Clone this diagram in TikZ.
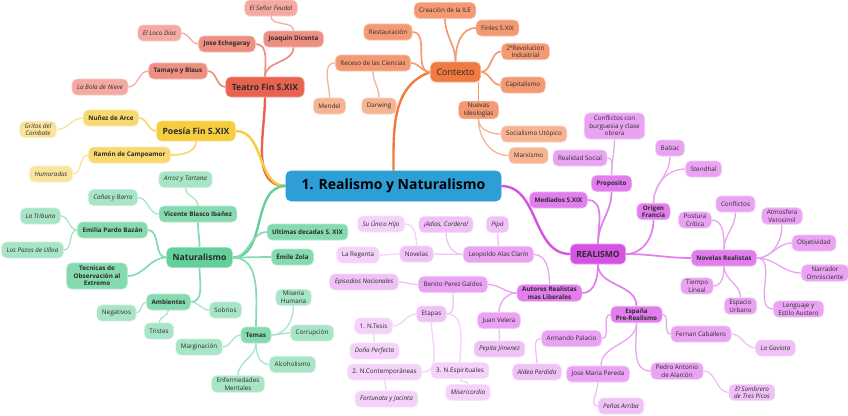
\documentclass[tikz,border=0pt]{standalone}
\usepackage{fontspec}
\setmainfont{Open Sans}
\usetikzlibrary{backgrounds}
\definecolor{txt}{HTML}{2B2B2B}
\definecolor{cenc}{HTML}{2D9FD6}
\definecolor{r0}{HTML}{E8634F}\definecolor{r1}{HTML}{EF8F82}\definecolor{r2}{HTML}{F4AAA2}
\definecolor{y0}{HTML}{F6CD3C}\definecolor{y1}{HTML}{F8D96F}\definecolor{y2}{HTML}{FAE49D}
\definecolor{o0}{HTML}{F07A3F}\definecolor{o1}{HTML}{F39A74}\definecolor{o2}{HTML}{F6B493}
\definecolor{g0}{HTML}{63CF9B}\definecolor{g1}{HTML}{86DAB0}\definecolor{g2}{HTML}{A8E5C6}
\definecolor{m0}{HTML}{D553E2}\definecolor{m1}{HTML}{E17DEC}\definecolor{m2}{HTML}{EAA3F3}
\definecolor{m3}{HTML}{F0C1F7}\definecolor{m4}{HTML}{F4D2F9}
\newcommand{\fsn}{\fontsize{6.3}{7.6}\selectfont}
\newcommand{\fsb}{\fontsize{8.6}{10}\selectfont}
\tikzset{
  base/.style={rounded corners=5pt, inner xsep=5pt, inner ysep=2pt, minimum height=16pt,
    align=center, text=txt, font=\fsn, line width=0.6pt},
  lv/.style={base, fill=#1, draw=#1!60!white},
  bld/.style={font=\fsn\bfseries},
  ital/.style={font=\fsn\itshape},
  big/.style={minimum height=20pt, inner xsep=6pt, font=\fsb\bfseries},
  e0/.style={line width=2.4pt},
  e1/.style={line width=1.7pt},
  e2/.style={line width=1.3pt},
}
\begin{document}
\begin{tikzpicture}[x=1pt,y=-1pt]
\useasboundingbox (0,0) rectangle (848,415);
% central
\node[base, fill=cenc, draw=cenc, minimum height=30pt, minimum width=215pt, text=black,
  font=\fontsize{14}{16}\selectfont\bfseries] (cen) at (393.5,186) {1. Realismo y Naturalismo};
% Teatro
\node[lv=r0, big] (tea) at (265,87) {Teatro Fin S.XIX};
\node[lv=r1, bld] (joa) at (293.5,39) {Joaquin Dicenta};
\node[lv=r2, ital] (sen) at (271,8) {El Señor Feudal};
\node[lv=r1, bld] (jec) at (227,44) {Jose Echegaray};
\node[lv=r2, ital] (loc) at (159.5,33) {El Loco Dios};
\node[lv=r1, bld] (tam) at (178,71) {Tamayo y Blaus};
\node[lv=r2, ital] (bol) at (100,87) {La Bola de Nieve};
% Poesia
\node[lv=y0, big] (poe) at (196,131) {Poesía Fin S.XIX};
\node[lv=y1, bld] (nun) at (111,118) {Nuñez de Arce};
\node[lv=y2, ital] (gri) at (38,129.5) {Gritos del\\Combate};
\node[lv=y1, bld] (ram) at (129.5,155) {Ramón de Campoamor};
\node[lv=y2, ital] (hum) at (51,174) {Humoradas};
% Contexto
\node[lv=o0, big, font=\fontsize{9}{11}\selectfont] (ctx) at (455.5,72) {Contexto};
\node[lv=o1] (ile) at (445,10.5) {Creación de la ILE};
\node[lv=o1] (fin) at (497.5,28) {Finles S.XIX};
\node[lv=o1] (rev) at (525.5,51.5) {2ªRevolucion\\Industrial};
\node[lv=o1] (cap) at (523,85) {Capitalismo};
\node[lv=o1] (nue) at (478.5,110) {Nuevas\\Ideologías};
\node[lv=o2] (soc) at (534,134) {Socialismo Utópico};
\node[lv=o2] (mar) at (528.5,155.5) {Marxismo};
\node[lv=o1] (res) at (388,32) {Restauración};
\node[lv=o1] (rec) at (373,63) {Receso de las Ciencias};
\node[lv=o2] (men) at (329.5,106) {Mendel};
\node[lv=o2] (dar) at (379,106) {Darwing};
% Naturalismo
\node[lv=g0, big] (nat) at (199.5,257.5) {Naturalismo};
\node[lv=g1, bld] (vic) at (198,214) {Vicente Blasco Ibañez};
\node[lv=g2, ital] (arr) at (185.5,179.5) {Arroz y Tartana};
\node[lv=g2, ital] (can) at (113,197.5) {Cañas y Barro};
\node[lv=g1, bld] (emi) at (112.5,230) {Emilia Pardo Bazán};
\node[lv=g2, ital] (tri) at (40.5,216) {La Tribuna};
\node[lv=g2, ital] (paz) at (32.5,250) {Los Pazos de Ulloa};
\node[lv=g1, bld, inner xsep=7pt, inner ysep=3pt] (tec) at (97,276) {Tecnicas de\\Observación al\\Extremo};
\node[lv=g1, bld] (ult) at (307.5,232) {Ultimas decadas S. XIX};
\node[lv=g1, bld] (zol) at (292.5,257) {Émile Zola};
\node[lv=g1, bld] (amb) at (168.5,302) {Ambientes};
\node[lv=g2] (neg) at (116.5,313) {Negativos};
\node[lv=g2] (trs) at (159,331) {Tristes};
\node[lv=g2] (sob) at (225.5,310) {Sobrios};
\node[lv=g1, bld] (tem) at (256,335) {Temas};
\node[lv=g2] (mgn) at (199,347) {Marginación};
\node[lv=g2] (mis) at (293.5,297.5) {Miseria\\Humana};
\node[lv=g2] (cor) at (312,333) {Corrupción};
\node[lv=g2] (alc) at (292.5,364.5) {Alcoholismo};
\node[lv=g2] (enf) at (238,384) {Enfermedades\\Mentales};
% Realismo
\node[lv=m0, big, font=\fontsize{8.5}{10}\selectfont\bfseries] (rea) at (598,254) {REALISMO};
\node[lv=m1, bld] (med) at (558.5,200) {Mediados S.XIX};
\node[lv=m1, bld] (pro) at (611.5,183.5) {Proposito};
\node[lv=m2] (rso) at (580,158) {Realidad Social};
\node[lv=m2, inner ysep=3pt] (cbo) at (614.5,126) {Conflictos con\\burguesia y clase\\obrera};
\node[lv=m1, bld] (ori) at (653.5,211.5) {Origen\\Francia};
\node[lv=m2] (bal) at (670,148) {Balzac};
\node[lv=m2] (ste) at (703.5,169) {Stendhal};
\node[lv=m1, bld] (nov) at (724,258) {Novelas Realistas};
\node[lv=m2] (pos) at (695,220) {Postura\\Crítica};
\node[lv=m2] (cfl) at (735.5,204) {Conflictos};
\node[lv=m2] (atm) at (782,216) {Atmosfera\\Verosimil};
\node[lv=m2] (obj) at (814,243) {Objetividad};
\node[lv=m2] (nar) at (825,273) {Narrador\\Omnisciente};
\node[lv=m2] (len) at (798.5,309) {Lenguaje y\\Estilo Austero};
\node[lv=m2] (tie) at (697,286) {Tiempo\\Lineal};
\node[lv=m2] (esp) at (740.5,306) {Espacio\\Urbano};
\node[lv=m1, bld] (spa) at (636.5,314.5) {España\\Pre-Realismo};
\node[lv=m2] (fer) at (701,334) {Fernan Caballero};
\node[lv=m3, ital] (gav) at (775.5,348) {La Gaviota};
\node[lv=m2] (ped) at (677,371) {Pedro Antonio\\de Alarcón};
\node[lv=m3, ital] (som) at (752,392.5) {El Sombrero\\de Tres Picos};
\node[lv=m2] (arm) at (571.5,338.5) {Armando Palacio};
\node[lv=m3, ital] (ald) at (537,372) {Aldea Perdida};
\node[lv=m2] (jmp) at (598,374) {Jose Maria Pereda};
\node[lv=m3, ital] (pen) at (621,406) {Peñas Arriba};
\node[lv=m1, bld] (aut) at (549.5,293) {Autores Realistas\\mas Liberales};
\node[lv=m2] (jua) at (499,320.5) {Juan Velera};
\node[lv=m3, ital] (pep) at (499.5,349) {Pepita Jimenez};
\node[lv=m2] (ben) at (453,284.5) {Benito Perez Galdos};
\node[lv=m3, ital] (epi) at (364,282) {Episodios Nacionales};
\node[lv=m3] (eta) at (431.5,314) {Etapas};
\node[lv=m4] (nte) at (373.5,326) {1. N.Tesis};
\node[lv=m4, ital] (dop) at (374.5,351) {Doña Perfecta};
\node[lv=m4] (nco) at (384.5,372) {2. N.Contemporáneas};
\node[lv=m4, ital] (fyj) at (386.5,399) {Fortunata y Jacinta};
\node[lv=m4] (nes) at (460,370.5) {3. N.Espirituales};
\node[lv=m4, ital] (mic) at (468,392.5) {Misericordia};
\node[lv=m2] (leo) at (498.5,254.5) {Leopoldo Alas Clarín};
\node[lv=m3, ital] (adi) at (446,224.5) {¡Adios, Cordera!};
\node[lv=m3, ital] (pip) at (497.5,224.5) {Pipá};
\node[lv=m3] (nvl) at (416.5,254) {Novelas};
\node[lv=m4, ital] (suh) at (381,224) {Su Único Hijo};
\node[lv=m4] (reg) at (358,255) {La Regenta};

\begin{scope}[on background layer]
% main branches
\draw[e0, r0] (cen.west) to[out=180,in=-90] (tea.south);
\draw[e0, y0] (cen.west) to[out=180,in=0] (poe.east);
\draw[e0, g0] (cen.west) to[out=180,in=0] (nat.east);
\draw[e0, o0] (cen.north) to[out=90,in=200] (ctx.west);
\draw[e0, m0] (cen.east) to[out=0,in=180] (rea.west);
% teatro
\draw[e1, r1] (tea.north) to[out=90,in=-90] (joa.south);
\draw[e1, r1] (tea.north) to[out=90,in=0] (jec.east);
\draw[e1, r1] (tea.west) to[out=180,in=0] (tam.east);
\draw[e2, r2] (joa.north) to[out=90,in=-90] (sen.south);
\draw[e2, r2] (jec.west) to[out=180,in=0] (loc.east);
\draw[e2, r2] (tam.west) to[out=180,in=0] (bol.east);
% poesia
\draw[e1, y1] (poe.west) to[out=180,in=0] (nun.east);
\draw[e1, y1] (poe.south) to[out=-90,in=0] (ram.east);
\draw[e2, y2] (nun.west) to[out=180,in=0] (gri.east);
\draw[e2, y2] (ram.west) to[out=180,in=0] (hum.east);
% contexto
\draw[e1, o1] (ctx.north) to[out=90,in=-90] (ile.south);
\draw[e1, o1] (ctx.north) to[out=90,in=180] (fin.west);
\draw[e1, o1] (ctx.east) to[out=0,in=180] (rev.west);
\draw[e1, o1] (ctx.east) to[out=0,in=180] (cap.west);
\draw[e1, o1] (nue.north) -- (nue.north |- ctx.south);
\draw[e1, o1] (ctx.west) to[out=180,in=0] (res.east);
\draw[e1, o1] (ctx.west) to[out=180,in=0] (rec.east);
\draw[e2, o2] (rec.west) to[out=180,in=90] (men.north);
\draw[e2, o2] (rec.south) to[out=-90,in=90] (dar.north);
\draw[e2, o2] (nue.south) to[out=-90,in=180] (soc.west);
\draw[e2, o2] (nue.south) to[out=-90,in=180] (mar.west);
% naturalismo
\draw[e1, g1] (nat.north) to[out=90,in=-90] (vic.south);
\draw[e1, g1] (nat.west) to[out=180,in=0] (emi.east);
\draw[e1, g1] (nat.west) to[out=180,in=0] (tec.east);
\draw[e1, g1] (nat.east) to[out=0,in=180] (ult.west);
\draw[e1, g1] (nat.east) to[out=0,in=180] (zol.west);
\draw[e1, g1] (nat.south) to[out=-90,in=0] (amb.east);
\draw[e1, g1] (nat.east) to[out=0,in=90] (tem.north);
\draw[e2, g2] (vic.north) to[out=90,in=-90] (arr.south);
\draw[e2, g2] (vic.west) to[out=180,in=0] (can.east);
\draw[e2, g2] (emi.west) to[out=180,in=0] (tri.east);
\draw[e2, g2] (emi.west) to[out=180,in=0] (paz.east);
\draw[e2, g2] (amb.west) to[out=180,in=0] (neg.east);
\draw[e2, g2] (amb.south) to[out=-90,in=90] (trs.north);
\draw[e2, g2] (amb.east) to[out=0,in=180] (sob.west);
\draw[e2, g2] (tem.west) to[out=180,in=0] (mgn.east);
\draw[e2, g2] (tem.east) to[out=0,in=-90] (mis.south);
\draw[e2, g2] (tem.east) to[out=0,in=180] (cor.west);
\draw[e2, g2] (tem.south) to[out=-90,in=180] (alc.west);
\draw[e2, g2] (tem.south) to[out=-90,in=90] (enf.north);
% realismo
\draw[e1, m1] (rea.north) to[out=90,in=0] (med.east);
\draw[e1, m1] (rea.north) to[out=90,in=-90] (pro.south);
\draw[e1, m1] (rea.east) to[out=0,in=-90] (ori.south);
\draw[e1, m1] (rea.east) to[out=0,in=180] (nov.west);
\draw[e1, m1] (rea.south) to[out=-90,in=90] (spa.north);
\draw[e1, m1] (rea.south) to[out=-90,in=0] (aut.east);
\draw[e2, m2] (pro.north) to[out=90,in=0] (rso.east);
\draw[e2, m2] (pro.north) to[out=90,in=-90] (cbo.south);
\draw[e2, m2] (ori.north) to[out=90,in=-90] (bal.south);
\draw[e2, m2] (ori.north) to[out=90,in=180] (ste.west);
\draw[e2, m2] (nov.north) to[out=90,in=0] (pos.east);
\draw[e2, m2] (nov.north) to[out=90,in=-90] (cfl.south);
\draw[e2, m2] (nov.east) to[out=0,in=-90] (atm.south);
\draw[e2, m2] (nov.east) to[out=0,in=180] (obj.west);
\draw[e2, m2] (nov.east) to[out=0,in=180] (nar.west);
\draw[e2, m2] (nov.east) to[out=0,in=180] (len.west);
\draw[e2, m2] (nov.south) to[out=-90,in=0] (tie.east);
\draw[e2, m2] (nov.south) to[out=-90,in=90] (esp.north);
\draw[e2, m2] (spa.east) to[out=0,in=180] (fer.west);
\draw[e2, m2] (spa.south) to[out=-90,in=180] (ped.west);
\draw[e2, m2] (spa.west) to[out=180,in=0] (arm.east);
\draw[e2, m2] (spa.south) to[out=-90,in=90] (jmp.70);
\draw[e2, m3] (fer.east) to[out=0,in=180] (gav.west);
\draw[e2, m3] (ped.east) to[out=0,in=180] (som.west);
\draw[e2, m3] (arm.west) to[out=180,in=90] (ald.north);
\draw[e2, m3] (jmp.south) to[out=-90,in=180] (pen.west);
\draw[e2, m2] (aut.west) to[out=180,in=90] (jua.north);
\draw[e2, m2] (aut.west) to[out=180,in=0] (ben.east);
\draw[e2, m2] (aut.north) to[out=90,in=0] (leo.east);
\draw[e2, m3] (jua.south) -- (pep.north);
\draw[e2, m3] (leo.north) -- (pip.south);
\draw[e2, m3] (leo.west) to[out=180,in=-90] (adi.south);
\draw[e2, m3] (leo.west) -- (nvl.east);
\draw[e2, m4] (nvl.north) to[out=90,in=0] (suh.east);
\draw[e2, m4] (nvl.west) to[out=180,in=0] (reg.east);
\draw[e2, m3] (ben.west) to[out=180,in=0] (epi.east);
\draw[e2, m3] (ben.south) to[out=-90,in=0] (eta.east);
\draw[e2, m4] (eta.east) to[out=0,in=90] (nes.north);
\draw[e2, m4] (eta.west) to[out=180,in=0] (nte.east);
\draw[e2, m4] (eta.south) to[out=-90,in=0] (nco.east);
\draw[e2, m4] (nte.south) -- (dop.north);
\draw[e2, m4] (nco.south) -- (fyj.north);
\draw[e2, m4] (nes.south) to[out=-90,in=90] (mic.north);
\end{scope}
\end{tikzpicture}
\end{document}
